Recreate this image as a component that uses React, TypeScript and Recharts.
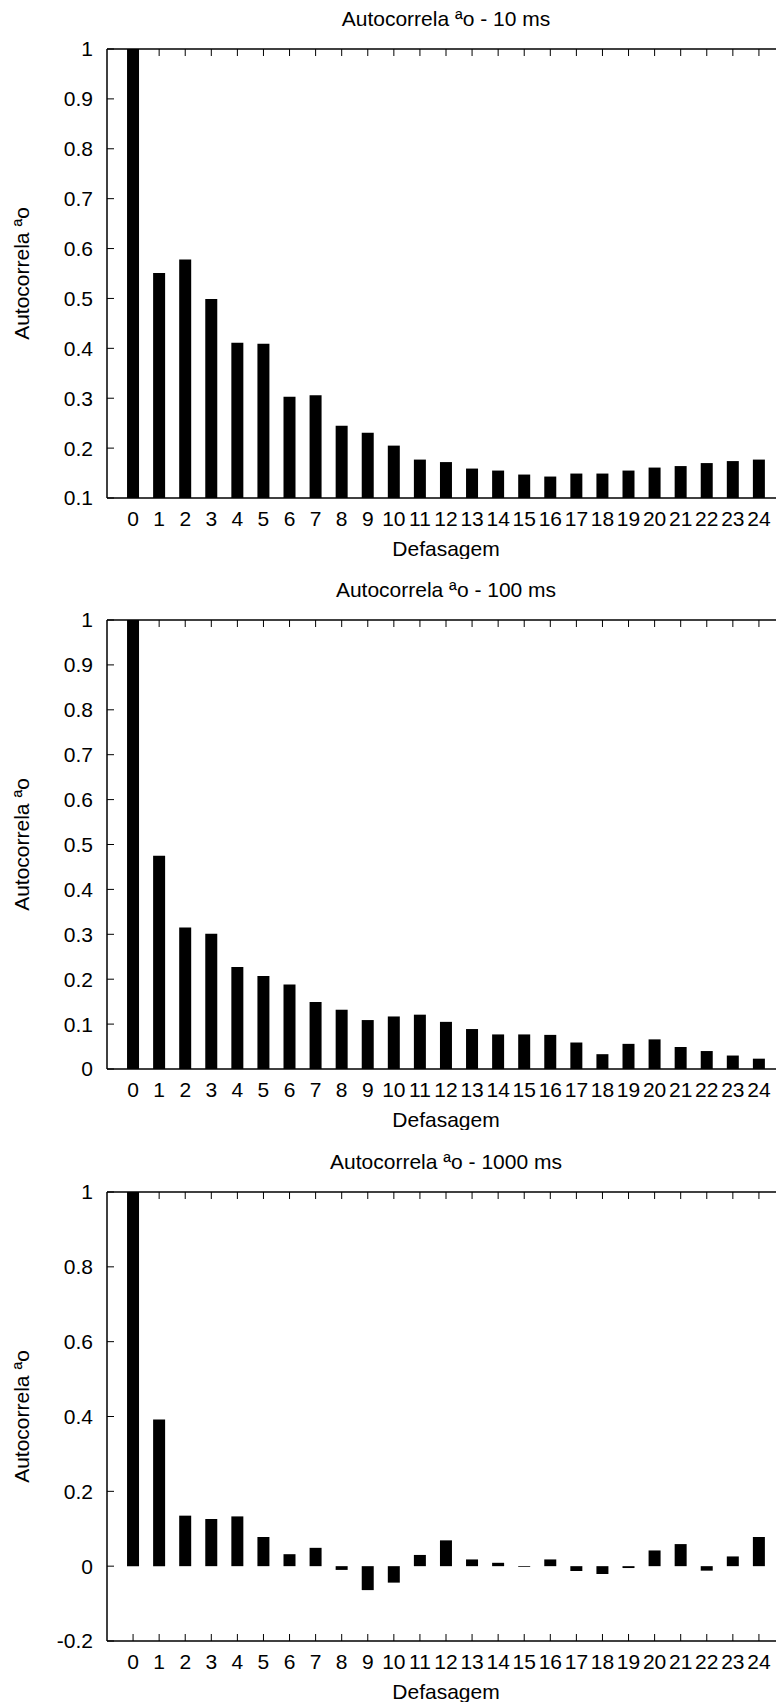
import { BarChart, Bar, XAxis, YAxis, Label } from 'recharts';

const FONT = '"Liberation Sans", Arial, sans-serif';

const lags = [0, 1, 2, 3, 4, 5, 6, 7, 8, 9, 10, 11, 12, 13, 14, 15, 16, 17, 18, 19, 20, 21, 22, 23, 24];

// autocorrelation per lag
const acf10ms = [1, 0.551, 0.578, 0.499, 0.411, 0.409, 0.303, 0.306, 0.245, 0.231, 0.205, 0.177, 0.172,
  0.159, 0.155, 0.147, 0.143, 0.149, 0.149, 0.155, 0.161, 0.164, 0.17, 0.174, 0.177];
const acf100ms = [1, 0.475, 0.315, 0.301, 0.227, 0.207, 0.188, 0.149, 0.132, 0.109, 0.117, 0.121, 0.105,
  0.089, 0.077, 0.077, 0.076, 0.059, 0.033, 0.056, 0.066, 0.049, 0.04, 0.03, 0.023];
const acf1000ms = [1, 0.392, 0.135, 0.126, 0.133, 0.078, 0.032, 0.049, -0.01, -0.064, -0.044, 0.03, 0.069,
  0.018, 0.009, -0.002, 0.018, -0.013, -0.021, -0.005, 0.042, 0.059, -0.012, 0.026, 0.078];

const yTicks10 = [0.1, 0.2, 0.3, 0.4, 0.5, 0.6, 0.7, 0.8, 0.9, 1];
const yTicks100 = [0, 0.1, 0.2, 0.3, 0.4, 0.5, 0.6, 0.7, 0.8, 0.9, 1];
const yTicks1000 = [-0.2, 0, 0.2, 0.4, 0.6, 0.8, 1];

const yLabel = 'Autocorrela ªo';
const xLabel = 'Defasagem';

const FS = 21;
const TICK = 7; // inward tick length
const X_GAP = 13; // axis line -> top of x tick label
const Y_GAP = 14; // axis line -> right end of y tick label

// gnuplot style: tick marks point into the plot, labels outside
const BottomTick = ({ x, y, payload }: any) => (
  <g>
    <line x1={x} x2={x} y1={y - X_GAP} y2={y - X_GAP - TICK} stroke="#000" />
    <text x={x} y={y} dy="0.71em" textAnchor="middle" fill="#000" fontSize={FS} fontFamily={FONT}>
      {payload.value}
    </text>
  </g>
);

const TopTick = ({ x, y }: any) => <line x1={x} x2={x} y1={y} y2={y + TICK} stroke="#000" />;

const LeftTick = ({ x, y, payload }: any) => (
  <g>
    <line x1={x + Y_GAP} x2={x + Y_GAP + TICK} y1={y} y2={y} stroke="#000" />
    <text x={x} y={y} dy="0.355em" textAnchor="end" fill="#000" fontSize={FS} fontFamily={FONT}>
      {payload.value}
    </text>
  </g>
);

type PanelProps = {
  title: string;
  values: number[];
  yDomain: [number, number];
  yTicks: number[];
  top: number;
};

const AcfPanel = ({ title, values, yDomain, yTicks, top }: PanelProps) => {
  const data = lags.map((lag, i) => ({ lag, acf: values[i] }));
  return (
    <div style={{ position: 'absolute', left: 0, top }}>
      <BarChart width={786} height={559} data={data} margin={{ top: 48, right: 1, bottom: 0, left: 0 }}>
        <XAxis
          xAxisId="bottom"
          dataKey="lag"
          type="number"
          domain={[-1, 25]}
          ticks={lags}
          interval={0}
          height={61}
          tickSize={0}
          tickMargin={X_GAP}
          tick={BottomTick}
          tickLine={false}
          axisLine={{ stroke: '#000', strokeWidth: 1.5 }}
        >
          <Label value={xLabel} position="insideBottom" offset={3} fill="#000" fontSize={FS} fontFamily={FONT} />
        </XAxis>
        <XAxis
          xAxisId="top"
          orientation="top"
          dataKey="lag"
          type="number"
          domain={[-1, 25]}
          ticks={lags}
          interval={0}
          height={1}
          tickSize={0}
          tickMargin={0}
          tick={TopTick}
          tickLine={false}
          axisLine={{ stroke: '#000', strokeWidth: 1.5 }}
        >
          <Label value={title} position="top" offset={22} fill="#000" fontSize={FS} fontFamily={FONT} />
        </XAxis>
        <YAxis
          type="number"
          domain={yDomain}
          ticks={yTicks}
          interval={0}
          width={107}
          tickSize={0}
          tickMargin={Y_GAP}
          tick={LeftTick}
          tickLine={false}
          axisLine={{ stroke: '#000', strokeWidth: 1.5 }}
        >
          <Label
            value={yLabel}
            angle={-90}
            position="insideLeft"
            offset={22}
            fill="#000"
            fontSize={FS}
            fontFamily={FONT}
            style={{ textAnchor: 'middle' }}
          />
        </YAxis>
        <Bar xAxisId="bottom" dataKey="acf" fill="#000" barSize={12} isAnimationActive={false} />
      </BarChart>
    </div>
  );
};

export default function App() {
  return (
    <div style={{ position: 'absolute', left: 0, top: 0, width: 776, height: 1706, overflow: 'hidden', background: '#fff' }}>
      <AcfPanel title="Autocorrela ªo - 10 ms" values={acf10ms} yDomain={[0.1, 1]} yTicks={yTicks10} top={0} />
      <AcfPanel title="Autocorrela ªo - 100 ms" values={acf100ms} yDomain={[0, 1]} yTicks={yTicks100} top={571} />
      <AcfPanel title="Autocorrela ªo - 1000 ms" values={acf1000ms} yDomain={[-0.2, 1]} yTicks={yTicks1000} top={1143} />
    </div>
  );
}
